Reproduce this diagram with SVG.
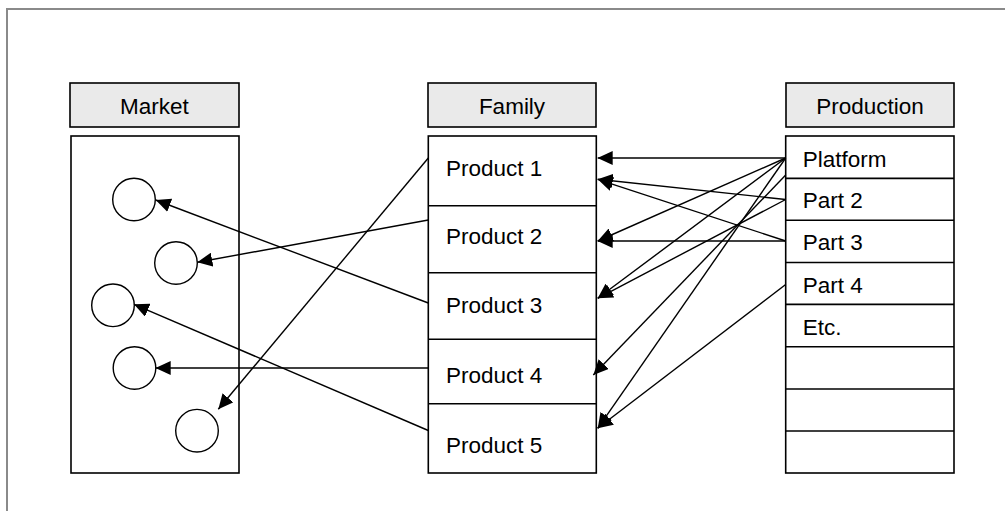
<svg xmlns="http://www.w3.org/2000/svg" width="1005" height="511" viewBox="0 0 1005 511">
<defs>
<marker id="ah" markerUnits="userSpaceOnUse" markerWidth="15" markerHeight="14" refX="15" refY="7" orient="auto">
<path d="M0,0 L15,7 L0,14 z" fill="#000"/>
</marker>
<style>
.frame{fill:none;stroke:#8a8a8a;stroke-width:2}
.hdr{fill:#eaeaea;stroke:#000;stroke-width:1.6}
.box{fill:#fff;stroke:#000;stroke-width:1.6}
.div{stroke:#000;stroke-width:1.6}
.c{fill:#fff;stroke:#000;stroke-width:1.4}
.t{font-family:"Liberation Sans",Arial,sans-serif;font-size:22.5px;fill:#000}
.m{text-anchor:middle}
.ln{stroke:#000;stroke-width:1.4;fill:none;marker-end:url(#ah)}
</style>
</defs>
<rect width="1005" height="511" fill="#fff"/>
<rect class="frame" x="7" y="9" width="1010" height="520"/>

<g id="market">
<rect class="hdr" x="70" y="83" width="169" height="44"/>
<text class="t m" x="154.5" y="114">Market</text>
<rect class="box" x="71" y="136" width="168" height="337"/>
<circle class="c" cx="134" cy="199.5" r="21.3"/>
<circle class="c" cx="176" cy="263" r="21.3"/>
<circle class="c" cx="113" cy="305.3" r="21.3"/>
<circle class="c" cx="134.5" cy="368" r="21.3"/>
<circle class="c" cx="197" cy="430.7" r="21.3"/>
</g>

<g id="family">
<rect class="hdr" x="428" y="83" width="168" height="44"/>
<text class="t m" x="512" y="114">Family</text>
<rect class="box" x="428.3" y="136" width="168" height="337"/>
<line class="div" x1="428.3" y1="205.7" x2="596.3" y2="205.7"/>
<line class="div" x1="428.3" y1="272.7" x2="596.3" y2="272.7"/>
<line class="div" x1="428.3" y1="339.3" x2="596.3" y2="339.3"/>
<line class="div" x1="428.3" y1="403.7" x2="596.3" y2="403.7"/>
<text class="t" x="446" y="175.7">Product 1</text>
<text class="t" x="446" y="244.3">Product 2</text>
<text class="t" x="446" y="312.7">Product 3</text>
<text class="t" x="446" y="382.7">Product 4</text>
<text class="t" x="446" y="452.7">Product 5</text>
</g>

<g id="production">
<rect class="hdr" x="786" y="83" width="168" height="44"/>
<text class="t m" x="870" y="114">Production</text>
<rect class="box" x="785.7" y="136" width="168.3" height="337"/>
<line class="div" x1="785.7" y1="178.4" x2="954" y2="178.4"/>
<line class="div" x1="785.7" y1="220.3" x2="954" y2="220.3"/>
<line class="div" x1="785.7" y1="262.5" x2="954" y2="262.5"/>
<line class="div" x1="785.7" y1="304.4" x2="954" y2="304.4"/>
<line class="div" x1="785.7" y1="346.7" x2="954" y2="346.7"/>
<line class="div" x1="785.7" y1="389" x2="954" y2="389"/>
<line class="div" x1="785.7" y1="431" x2="954" y2="431"/>
<text class="t" x="802.7" y="166.7">Platform</text>
<text class="t" x="802.7" y="208.3">Part 2</text>
<text class="t" x="802.7" y="250.3">Part 3</text>
<text class="t" x="802.7" y="292.7">Part 4</text>
<text class="t" x="802.7" y="335">Etc.</text>
</g>

<g id="connectors">
<line class="ln" x1="428.3" y1="303" x2="155.7" y2="200"/>
<line class="ln" x1="428.3" y1="220" x2="197.3" y2="262.3"/>
<line class="ln" x1="428.3" y1="430.5" x2="134" y2="304.3"/>
<line class="ln" x1="428.3" y1="368" x2="155.7" y2="368"/>
<line class="ln" x1="428.3" y1="158" x2="218.3" y2="409.3"/>

<line class="ln" x1="785.7" y1="158" x2="597.7" y2="158"/>
<line class="ln" x1="785.7" y1="158" x2="597.7" y2="241"/>
<line class="ln" x1="785.7" y1="158" x2="597.7" y2="298.3"/>
<line class="ln" x1="785.7" y1="158" x2="597.7" y2="428.3"/>
<line class="ln" x1="785.7" y1="175" x2="593.3" y2="375"/>
<line class="ln" x1="785.7" y1="199.5" x2="597.7" y2="179.3"/>
<line class="ln" x1="785.7" y1="199.5" x2="597.7" y2="298.3"/>
<line class="ln" x1="785.7" y1="241" x2="597.7" y2="179.3"/>
<line class="ln" x1="785.7" y1="241" x2="597.7" y2="241"/>
<line class="ln" x1="785.7" y1="284.5" x2="597.7" y2="428.3"/>
</g>
</svg>
